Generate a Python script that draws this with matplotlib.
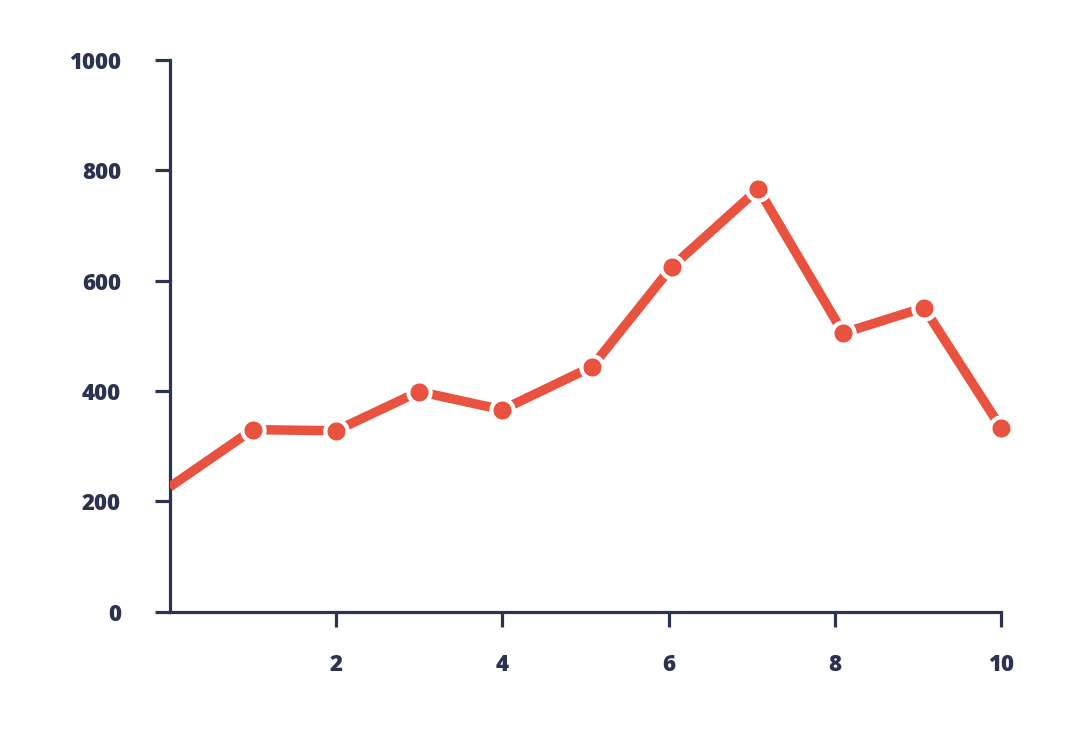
import matplotlib.pyplot as plt

# Data
x_vals = [0, 1, 2, 3, 4, 5.08, 6.04, 7.08, 8.1, 9.07, 10]
y_vals = [226, 330, 328, 399, 366, 444, 625, 766, 505, 551, 333]
x_ticks = [2, 4, 6, 8, 10]
y_ticks = [0, 200, 400, 600, 800, 1000]

navy = '#2b3350'
red = '#e8523f'

plt.rcParams['font.family'] = ['Open Sans', 'DejaVu Sans']

fig = plt.figure(figsize=(10.8, 7.38), dpi=100)
ax = fig.add_axes([0.157, 0.171, 0.770, 0.748])

ax.plot(x_vals, y_vals, color=red, lw=6.8, solid_capstyle='butt', zorder=3)
ax.plot(x_vals[1:], y_vals[1:], 'o', ms=16, color=red, mec='white',
        mew=3, zorder=4, clip_on=False)

ax.set_xlim(0, 10)
ax.set_ylim(0, 1000)
ax.set_xticks(x_ticks)
ax.set_yticks(y_ticks)

for side in ['top', 'right']:
    ax.spines[side].set_visible(False)
for side in ['left', 'bottom']:
    ax.spines[side].set_color(navy)
    ax.spines[side].set_linewidth(2.3)

ax.tick_params(axis='both', colors=navy, width=2.3, length=11,
               labelsize=16)
ax.tick_params(axis='y', pad=24)
ax.tick_params(axis='x', pad=19)
for lab in ax.get_xticklabels() + ax.get_yticklabels():
    lab.set_fontweight('heavy')

fig.savefig('out.png', dpi=100, facecolor='white')
